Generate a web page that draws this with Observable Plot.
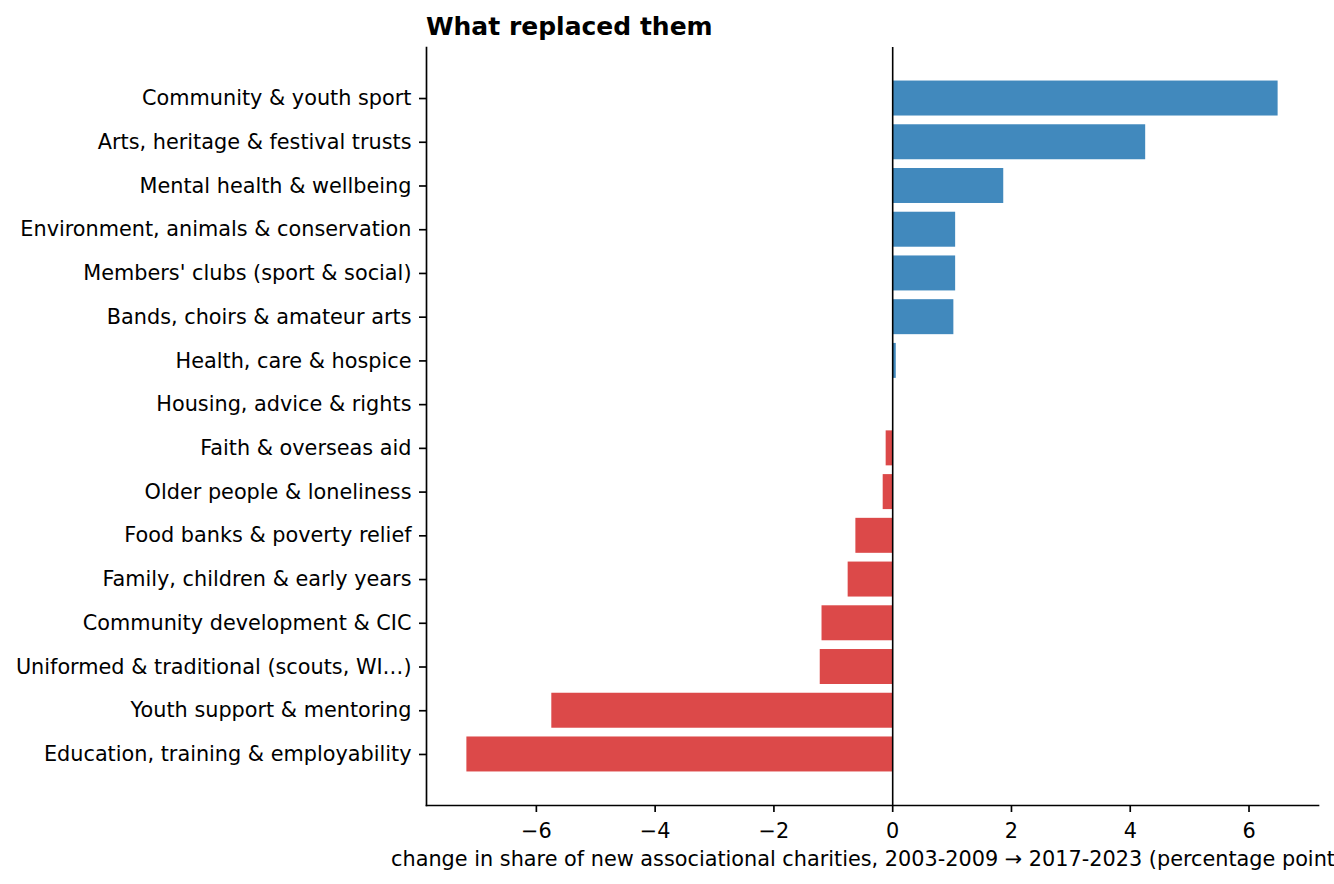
<!DOCTYPE html>
<html><head><meta charset="utf-8">
<script src="https://cdn.jsdelivr.net/npm/d3@7"></script>
<script src="https://cdn.jsdelivr.net/npm/@observablehq/plot@0.6"></script>
<style>
html,body{margin:0;padding:0;background:#fff;overflow:hidden;}
#title{height:26px;padding-top:14px;padding-left:426px;font-family:"DejaVu Sans";font-size:25px;line-height:25px;font-weight:bold;color:#000;white-space:nowrap;}
</style></head><body>
<div id="title">What replaced them</div>
<div id="chart"></div>
<script>
const categories = [
  "Community & youth sport",
  "Arts, heritage & festival trusts",
  "Mental health & wellbeing",
  "Environment, animals & conservation",
  "Members' clubs (sport & social)",
  "Bands, choirs & amateur arts",
  "Health, care & hospice",
  "Housing, advice & rights",
  "Faith & overseas aid",
  "Older people & loneliness",
  "Food banks & poverty relief",
  "Family, children & early years",
  "Community development & CIC",
  "Uniformed & traditional (scouts, WI…)",
  "Youth support & mentoring",
  "Education, training & employability"
];
const values = [6.49, 4.26, 1.87, 1.06, 1.06, 1.03, 0.06, 0.01, -0.11, -0.16, -0.62, -0.75, -1.19, -1.22, -5.74, -7.17];
const xTicks = [-6, -4, -2, 0, 2, 4, 6];
const xDomain = [-7.85, 7.17];
const xLabel = "change in share of new associational charities, 2003-2009 → 2017-2023 (percentage points)";
const posColor = "#4189bd";
const negColor = "#dc4949";

const data = categories.map((c, i) => ({category: c, value: values[i]}));

const chart = Plot.plot({
  width: 1334,
  height: 844,
  marginLeft: 426,
  marginRight: 16,
  marginTop: 7,
  marginBottom: 79,
  style: {fontFamily: "DejaVu Sans", fontSize: "20.8px", color: "#000", background: "#fff", overflow: "visible"},
  x: {domain: xDomain, ticks: xTicks},
  y: {domain: categories, paddingInner: 0.2, paddingOuter: 0.767, round: false},
  marks: [
    Plot.barX(data, {x: "value", y: "category", fill: d => d.value >= 0 ? posColor : negColor}),
    Plot.ruleX([0], {stroke: "#000", strokeWidth: 1.6}),
    Plot.axisY({tickSize: 7, tickPadding: 8, strokeWidth: 1.67, label: null}),
    Plot.axisX({ticks: xTicks, tickSize: 7, tickPadding: 11, strokeWidth: 1.67, label: xLabel, labelAnchor: "center", labelArrow: "none", labelOffset: 60}),
    Plot.frame({anchor: "left", strokeWidth: 1.67}),
    Plot.frame({anchor: "bottom", strokeWidth: 1.67})
  ]
});
document.getElementById("chart").appendChild(chart);
</script>
</body></html>
